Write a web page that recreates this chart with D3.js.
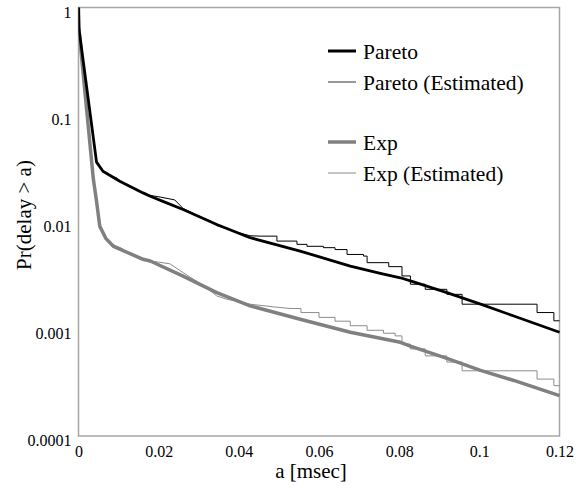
<!DOCTYPE html>
<html>
<head>
<meta charset="utf-8">
<script src="https://cdn.jsdelivr.net/npm/d3@7"></script>
<style>
  html, body { margin: 0; padding: 0; background: #fff; font-family: "Liberation Serif", serif; }
  svg { display: block; }
</style>
</head>
<body>
<svg id="chart" width="581" height="490"></svg>
<script>
// ---- data (a [msec], Pr(delay > a)) ----
const xTicks = [0, 0.02, 0.04, 0.06, 0.08, 0.1, 0.12];
const xTickLabels = ["0", "0.02", "0.04", "0.06", "0.08", "0.1", "0.12"];
const yTicks = [1, 0.1, 0.01, 0.001, 0.0001];
const yTickLabels = ["1", "0.1", "0.01", "0.001", "0.0001"];

const legendLabels = ["Pareto", "Pareto (Estimated)", "Exp", "Exp (Estimated)"];

const paretoFit = [
  [0, 1], [0.0001, 0.64], [0.0045, 0.036], [0.0061, 0.0296], [0.0103, 0.0239],
  [0.0161, 0.0186], [0.0179, 0.0173], [0.022, 0.0150], [0.0261, 0.0130],
  [0.0345, 0.00944], [0.0428, 0.0071], [0.0553, 0.00532], [0.0678, 0.00386],
  [0.0753, 0.0033], [0.0803, 0.0030], [0.0836, 0.00275], [0.0919, 0.00218],
  [0.1003, 0.0017], [0.1086, 0.00132], [0.12, 0.00093]
];

const paretoEst = [
  [0, 1], [0.0001, 0.64], [0.0045, 0.036], [0.0061, 0.0296], [0.0085, 0.0262],
  [0.0095, 0.0258], [0.0103, 0.0239], [0.0125, 0.0213], [0.0140, 0.0205],
  [0.0161, 0.0186], [0.0180, 0.0176], [0.0204, 0.0170], [0.0240, 0.0160],
  [0.0261, 0.0133], [0.0300, 0.0113], [0.0330, 0.0101], [0.0345, 0.0092],
  [0.0370, 0.0086], [0.0400, 0.0079], [0.0428, 0.0074], [0.0453, 0.00734],
  [0.0495, 0.00734], [0.0495, 0.0066], [0.0545, 0.0066], [0.0545, 0.00615],
  [0.0570, 0.00615], [0.0570, 0.0059], [0.0611, 0.0059], [0.0611, 0.00573],
  [0.0640, 0.00573], [0.0640, 0.00550], [0.0670, 0.00550], [0.0670, 0.00495],
  [0.0711, 0.00495], [0.0711, 0.00478], [0.0720, 0.00478], [0.0720, 0.00415],
  [0.0774, 0.00415], [0.0774, 0.00381], [0.0807, 0.00381], [0.0807, 0.00312],
  [0.0828, 0.00312], [0.0828, 0.00261], [0.0865, 0.00261], [0.0865, 0.00234],
  [0.0919, 0.00234], [0.0919, 0.0021], [0.0957, 0.0021], [0.0957, 0.0017],
  [0.1144, 0.0017], [0.1144, 0.00142], [0.1186, 0.00142], [0.1186, 0.00119],
  [0.12, 0.00119]
];

const expFit = [
  [0, 1], [0.0001, 0.63], [0.0037, 0.025], [0.0045, 0.0155], [0.0053, 0.0091],
  [0.0068, 0.0070], [0.0087, 0.0059], [0.0161, 0.00446], [0.0179, 0.0043],
  [0.0261, 0.00311], [0.0345, 0.00218], [0.0428, 0.00164], [0.0553, 0.00123],
  [0.0678, 0.00093], [0.0803, 0.00075], [0.0828, 0.00069], [0.0919, 0.00053],
  [0.1003, 0.00041], [0.1086, 0.00033], [0.12, 0.000238]
];

const expEst = [
  [0, 1], [0.0001, 0.63], [0.0037, 0.025], [0.0045, 0.0155], [0.0053, 0.0091],
  [0.0068, 0.0071], [0.0087, 0.0061], [0.0110, 0.0056], [0.0125, 0.0050],
  [0.0161, 0.00455], [0.0179, 0.0043], [0.0200, 0.0042], [0.0228, 0.00405],
  [0.0261, 0.00335], [0.0300, 0.00270], [0.0330, 0.00225], [0.0345, 0.00203],
  [0.0370, 0.00189], [0.0400, 0.00180], [0.0428, 0.0017], [0.0490, 0.0016],
  [0.0528, 0.00155], [0.0555, 0.00155], [0.0555, 0.00142], [0.0600, 0.00142],
  [0.0600, 0.00128], [0.0640, 0.00128], [0.0640, 0.00118], [0.0678, 0.00118],
  [0.0678, 0.00107], [0.0720, 0.00107], [0.0720, 0.00097], [0.0761, 0.00097],
  [0.0761, 0.00091], [0.0790, 0.00091], [0.0790, 0.00086], [0.0807, 0.00086],
  [0.0807, 0.00072], [0.0828, 0.00072], [0.0828, 0.00065], [0.0865, 0.00065],
  [0.0865, 0.00056], [0.0919, 0.00056], [0.0919, 0.00049], [0.0957, 0.00049],
  [0.0957, 0.000406], [0.1144, 0.000406], [0.1144, 0.00034], [0.1186, 0.00034],
  [0.1186, 0.000295], [0.12, 0.000295]
];

const FONT = "'Liberation Serif', 'DejaVu Serif', serif";

// ---- layout ----
const svg = d3.select("#chart");
const plot = { left: 78.5, right: 559.5, top: 7.5, bottom: 436 };

const x = d3.scaleLinear().domain([0, 0.12]).range([plot.left, plot.right]);
const y = d3.scaleLog().domain([0.0001, 1]).range([plot.bottom, plot.top]);

svg.append("defs").append("clipPath").attr("id", "clip")
  .append("rect")
  .attr("x", plot.left).attr("y", plot.top - 2)
  .attr("width", plot.right - plot.left + 2)
  .attr("height", plot.bottom - plot.top + 2);

svg.append("rect")
  .attr("x", plot.left).attr("y", plot.top)
  .attr("width", plot.right - plot.left)
  .attr("height", plot.bottom - plot.top)
  .attr("fill", "none").attr("stroke", "#a6a6a6").attr("stroke-width", 1.5);

const xAxis = d3.axisBottom(x).tickValues(xTicks)
  .tickFormat((d, i) => xTickLabels[i]).tickSize(0).tickPadding(0);
const gx = svg.append("g").attr("transform", `translate(0,${plot.bottom})`).call(xAxis);
gx.attr("font-family", FONT).attr("font-size", 16);
gx.select(".domain").remove();
gx.selectAll("text").attr("dy", null).attr("y", 21)
  .style("font-family", FONT).style("font-size", "16px").attr("fill", "#000");

const yAxis = d3.axisLeft(y).tickValues(yTicks)
  .tickFormat((d, i) => yTickLabels[i]).tickSize(0).tickPadding(0);
const gy = svg.append("g").attr("transform", `translate(${plot.left - 7},0)`).call(yAxis);
gy.attr("font-family", FONT).attr("font-size", 16);
gy.select(".domain").remove();
gy.selectAll("text").attr("dy", "0.6em")
  .style("font-family", FONT).style("font-size", "16px").attr("fill", "#000");

svg.append("text")
  .attr("x", 311).attr("y", 478)
  .attr("text-anchor", "middle")
  .style("font-family", FONT).style("font-size", "21px")
  .text("a [msec]");
svg.append("text")
  .attr("transform", "translate(24,215) rotate(-90)")
  .attr("text-anchor", "middle").attr("dy", "0.35em")
  .style("font-family", FONT).style("font-size", "21px")
  .text("Pr(delay > a)");

const line = d3.line().x(d => x(d[0])).y(d => y(d[1]));
const g = svg.append("g").attr("clip-path", "url(#clip)");

const series = [
  { data: expEst, color: "#8c8c8c", width: 1 },
  { data: paretoEst, color: "#000000", width: 1 },
  { data: expFit, color: "#808080", width: 3.5 },
  { data: paretoFit, color: "#000000", width: 2.8 }
];
series.forEach(s => {
  g.append("path").datum(s.data)
    .attr("d", line)
    .attr("fill", "none")
    .attr("stroke", s.color)
    .attr("stroke-width", s.width)
    .attr("stroke-linejoin", "round");
});

const legendItems = [
  { label: legendLabels[0], color: "#000000", width: 3, y: 51 },
  { label: legendLabels[1], color: "#333333", width: 1, y: 82 },
  { label: legendLabels[2], color: "#808080", width: 3.5, y: 142 },
  { label: legendLabels[3], color: "#8c8c8c", width: 1, y: 173 }
];
const lg = svg.append("g");
legendItems.forEach(it => {
  lg.append("line")
    .attr("x1", 328).attr("x2", 356)
    .attr("y1", it.y).attr("y2", it.y)
    .attr("stroke", it.color).attr("stroke-width", it.width);
  lg.append("text")
    .attr("x", 363).attr("y", it.y).attr("dy", "0.35em")
    .style("font-family", FONT).style("font-size", "21.5px")
    .text(it.label);
});
</script>
</body>
</html>
